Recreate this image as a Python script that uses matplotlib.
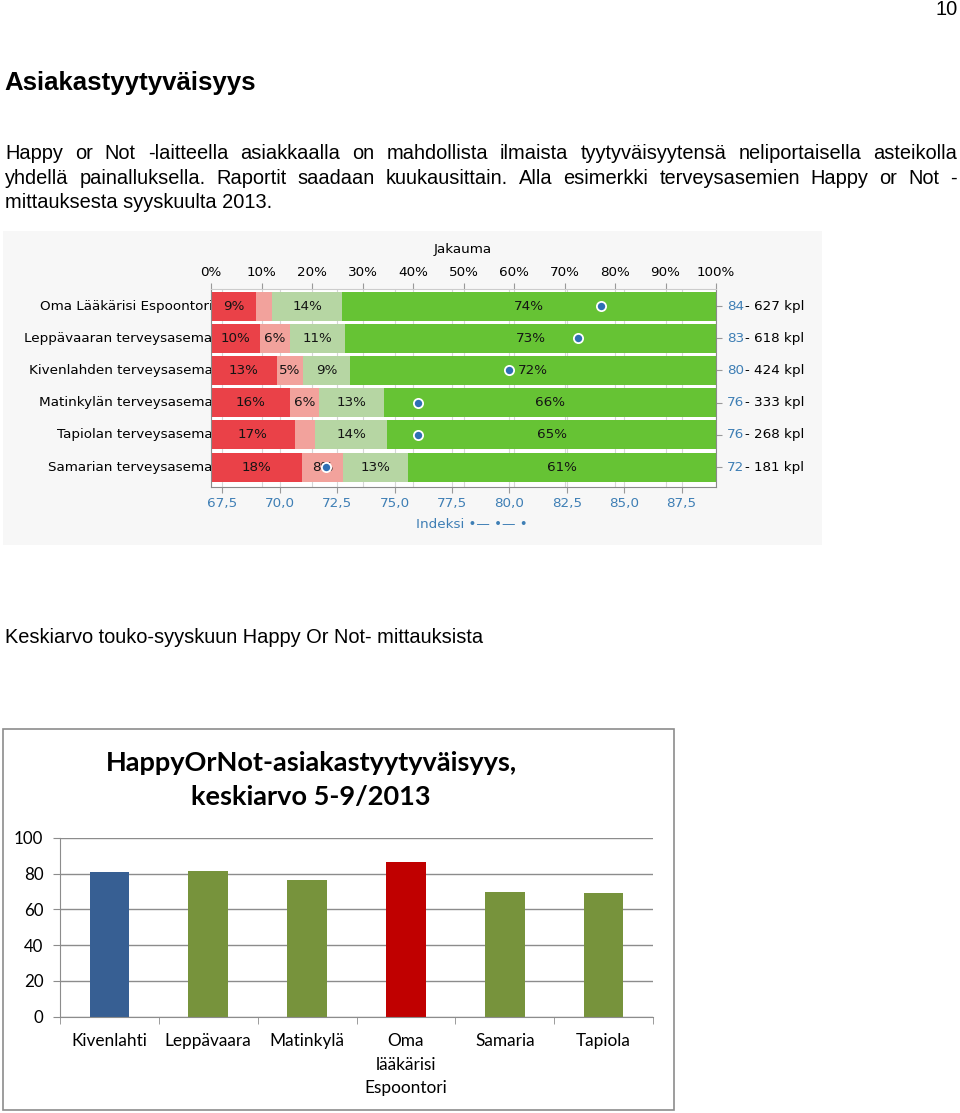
import matplotlib
matplotlib.use("Agg")
import numpy as np
import matplotlib.pyplot as plt
from matplotlib.patches import Rectangle
from matplotlib.transforms import Bbox, TransformedBbox, blended_transform_factory

W, H = 960, 1113

# Jakauma (Happy or Not, syyskuu 2013)
stations = ["Oma Lääkärisi Espoontori", "Leppävaaran terveysasema", "Kivenlahden terveysasema",
            "Matinkylän terveysasema", "Tapiolan terveysasema", "Samarian terveysasema"]
very_unhappy = [8.9, 9.8, 13.0, 15.6, 16.6, 18.0]
unhappy = [3.2, 5.8, 5.2, 5.8, 4.0, 8.2]
happy = [13.9, 11.0, 9.4, 12.8, 14.3, 12.9]
very_happy = [74.0, 73.4, 72.4, 65.8, 65.1, 60.9]
index_vals = [84, 83, 80, 76, 76, 72]
counts = [627, 618, 424, 333, 268, 181]
pct_ticks = [0, 10, 20, 30, 40, 50, 60, 70, 80, 90, 100]
index_ticks = [67.5, 70.0, 72.5, 75.0, 77.5, 80.0, 82.5, 85.0, 87.5]

# Keskiarvo 5-9/2013
places = ["Kivenlahti", "Leppävaara", "Matinkylä", "Oma\nlääkärisi\nEspoontori", "Samaria", "Tapiola"]
avg_scores = [81.0, 81.5, 76.7, 86.6, 69.9, 69.2]
avg_colors = ['#375f93', '#77933c', '#77933c', '#c00000', '#77933c', '#77933c']
y_ticks2 = [0, 20, 40, 60, 80, 100]

seg_colors = ['#ea4148', '#f2a29c', '#b6d6a3', '#66c334']
blue_txt = '#3f7fb5'
PAGE_FONT = 'Liberation Sans'
BODY = 14.4


def fx(x):
    return x / W


def fy(y):
    return 1 - y / H


fig = plt.figure(figsize=(W / 100, H / 100), dpi=100)
fig.patch.set_facecolor('white')
renderer = fig.canvas.get_renderer()

# sivun tekstit
fig.text(fx(958), fy(15), "10", ha='right', va='baseline', fontsize=BODY, family=PAGE_FONT)
fig.text(fx(4), fy(90), "Asiakastyytyväisyys", ha='left', va='baseline', fontsize=18.6,
         fontweight='bold', family=PAGE_FONT)


def justified(line, ybase, x0=5, x1=957):
    words = line.split()
    texts = [fig.text(0, fy(ybase), w, va='baseline', fontsize=BODY, family=PAGE_FONT) for w in words]
    widths = [t.get_window_extent(renderer).width for t in texts]
    gap = (x1 - x0 - sum(widths)) / (len(words) - 1)
    x = x0
    for t, w in zip(texts, widths):
        t.set_x(fx(x))
        x += w + gap


justified("Happy or Not -laitteella asiakkaalla on mahdollista ilmaista tyytyväisyytensä neliportaisella asteikolla", 159)
justified("yhdellä painalluksella. Raportit saadaan kuukausittain. Alla esimerkki terveysasemien Happy or Not -", 184)
fig.text(fx(5), fy(208), "mittauksesta syyskuulta 2013.", va='baseline', fontsize=BODY, family=PAGE_FONT)
fig.text(fx(5), fy(643), "Keskiarvo touko-syyskuun Happy Or Not- mittauksista", va='baseline',
         fontsize=BODY, family=PAGE_FONT)

# ---- kaavio 1: jakauma ----
fig.add_artist(Rectangle((fx(3), fy(545)), (822 - 3) / W, (545 - 231) / H, transform=fig.transFigure,
                         facecolor='#f7f7f7', edgecolor='none', zorder=0))
FS1 = 9.7
ax = fig.add_axes([fx(211), fy(487), 505 / W, 198 / H])
ax.set_facecolor('white')
rows = np.arange(len(stations))
left = np.zeros(len(stations))
for vals, col in zip([very_unhappy, unhappy, happy, very_happy], seg_colors):
    vals = np.array(vals)
    ax.barh(rows, vals, left=left, height=0.9, color=col, zorder=2)
    for i, v in enumerate(vals):
        if v >= 4.5:
            ax.text(left[i] + v / 2, i, f"{round(v)}%", ha='center', va='center', fontsize=FS1,
                    color='#141414', zorder=3)
    left += vals
ax.set_xlim(0, 100)
ax.set_ylim(5.62, -0.53)
ax.set_yticks(rows)
ax.set_yticklabels([])
ax.tick_params(axis='y', left=False, right=True, length=4, color='#999999')
ax.grid(axis='x', color='#d6d6d6', lw=0.8)
ax.set_axisbelow(True)
for s in ax.spines.values():
    s.set_color('#8a8a8a')
ax.spines['top'].set_color('#cccccc')

ax2 = ax.twiny()
ax2.set_xlim(67, 89)
# prosentit ylös, indeksi alas
ax.xaxis.tick_top()
ax.set_xticks(pct_ticks)
ax.set_xticklabels([f"{t}%" for t in pct_ticks])
ax.tick_params(axis='x', top=True, bottom=False, labeltop=True, labelbottom=False, length=4,
               color='#999999', labelsize=FS1, pad=3)
ax2.xaxis.tick_bottom()
ax2.set_xticks(index_ticks)
ax2.set_xticklabels([f"{t:.1f}".replace('.', ',') for t in index_ticks])
ax2.tick_params(axis='x', bottom=True, top=False, labelbottom=True, labeltop=False, length=4,
                color='#999999', labelsize=FS1, labelcolor=blue_txt, pad=3)
for s in ax2.spines.values():
    s.set_visible(False)
ax.vlines(index_ticks, 0, 1, transform=blended_transform_factory(ax2.transData, ax.transAxes),
          color='#d6d6d6', lw=0.8, zorder=0)
ax2.scatter(index_vals, rows, s=44, color='#2f6fb4', edgecolor='white', linewidth=1.3, zorder=5)

row_tr = blended_transform_factory(fig.transFigure, ax.transData)
clip = TransformedBbox(Bbox([[0, 0], [fx(210.5), 1]]), fig.transFigure)
for i, name in enumerate(stations):
    t = fig.text(fx(212.5), i, name, ha='right', va='center', fontsize=FS1, transform=row_tr,
                 clip_on=True)
    t.set_clip_box(clip)
    fig.text(fx(727), i, str(index_vals[i]), ha='left', va='center', fontsize=FS1, color=blue_txt,
             transform=row_tr)
    fig.text(fx(745), i, f"- {counts[i]} kpl", ha='left', va='center', fontsize=FS1, transform=row_tr)

fig.text(fx(463), fy(249), "Jakauma", ha='center', va='center', fontsize=FS1)
fig.text(fx(416), fy(524), "Indeksi •— •— •", ha='left', va='center', fontsize=FS1, color=blue_txt)

# ---- kaavio 2: keskiarvot ----
fig.add_artist(Rectangle((fx(3), fy(1110)), (674 - 3) / W, (1110 - 729) / H, transform=fig.transFigure,
                         facecolor='white', edgecolor='#8c8c8c', lw=1.2, zorder=0))
TF = 'Lato'
fig.text(fx(311), fy(763), "HappyOrNot-asiakastyytyväisyys,", ha='center', va='center', fontsize=19.5,
         fontweight='bold', family=TF)
fig.text(fx(311), fy(797), "keskiarvo 5-9/2013", ha='center', va='center', fontsize=19.5,
         fontweight='bold', family=TF)

bx = fig.add_axes([fx(60), fy(1016.7), 593 / W, 178.7 / H])
pos = np.arange(len(places))
bx.bar(pos, avg_scores, width=0.4, color=avg_colors, zorder=2)
bx.set_xlim(-0.5, len(places) - 0.5)
bx.set_ylim(0, 100)
bx.set_yticks(y_ticks2)
bx.set_yticklabels([str(v) for v in y_ticks2], family=TF, fontsize=12.2)
bx.tick_params(axis='y', length=5, color='#8c8c8c', pad=7)
bx.grid(axis='y', color='#8c8c8c', lw=1)
bx.set_axisbelow(True)
bx.set_xticks(pos)
bx.set_xticklabels(places, family=TF, fontsize=12.4, linespacing=1.55)
bx.set_xticks(np.arange(len(places) + 1) - 0.5, minor=True)
bx.tick_params(axis='x', which='major', length=0, pad=12)
bx.tick_params(axis='x', which='minor', length=5, color='#8c8c8c')
for s in ['top', 'right']:
    bx.spines[s].set_visible(False)
for s in ['left', 'bottom']:
    bx.spines[s].set_color('#8c8c8c')

fig.savefig('out.png', dpi=100, facecolor='white')
